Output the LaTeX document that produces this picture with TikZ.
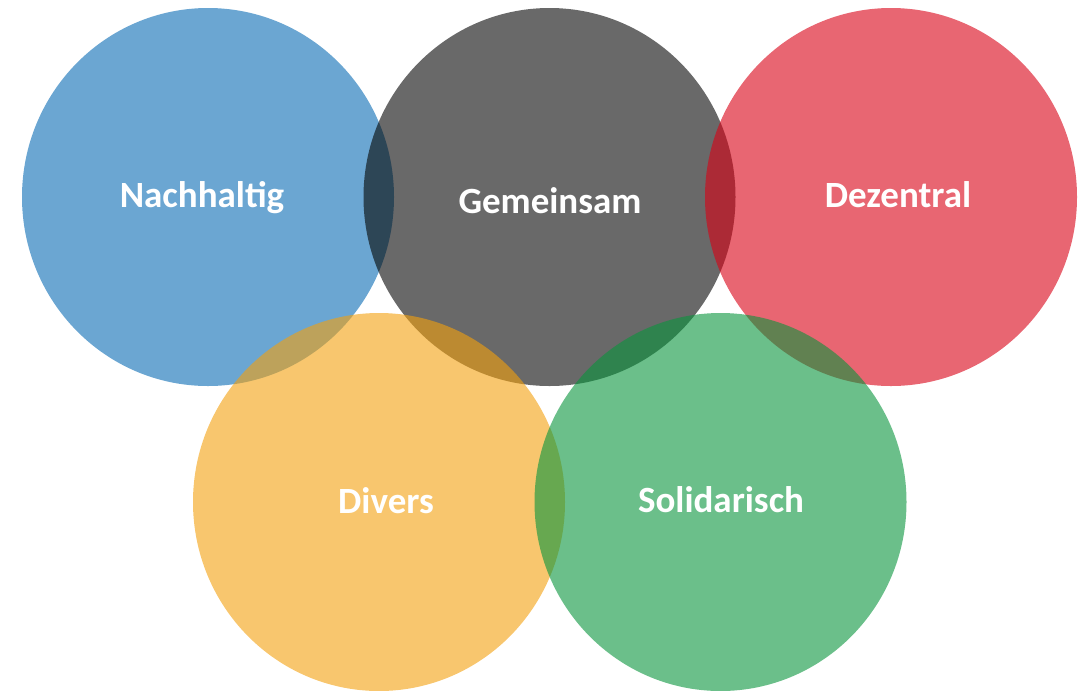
\documentclass[tikz,border=0pt]{standalone}
\usepackage{fontspec}
\setmainfont{Carlito}
\definecolor{cblue}{RGB}{8,107,180}
\definecolor{cgray}{RGB}{5,5,5}
\definecolor{cred}{RGB}{217,0,20}
\definecolor{cyellow}{RGB}{243,160,13}
\definecolor{cgreen}{RGB}{8,148,60}
\begin{document}
\begin{tikzpicture}[x=0.75pt,y=-0.75pt,
  ring/.style={fill opacity=0.6, draw=none, x radius=186, y radius=189},
  lbl/.style={text=white, font=\fontsize{27.75}{32}\selectfont\bfseries, inner sep=0pt}]
\useasboundingbox (0,0) rectangle (1084,690);
\begin{scope}
\clip (0,0) rectangle (1084,690);
\fill[ring, fill=cblue] (208,197) ellipse [x radius=186, y radius=189];
\fill[ring, fill=cgray] (549.5,197) ellipse [x radius=186, y radius=189];
\fill[ring, fill=cred] (891,197) ellipse [x radius=186, y radius=189];
\fill[ring, fill=cyellow] (379,502) ellipse [x radius=186, y radius=189];
\fill[ring, fill=cgreen] (720.5,502) ellipse [x radius=186, y radius=189];
\end{scope}
\node[lbl] (n1) at (202,198) {Nachhaltig};
\node[lbl] (n2) at (550,201) {Gemeinsam};
\node[lbl] (n3) at (898,195) {Dezentral};
\node[lbl] (n4) at (386,501) {Divers};
\node[lbl] (n5) at (721,500) {Solidarisch};
\end{tikzpicture}
\end{document}
